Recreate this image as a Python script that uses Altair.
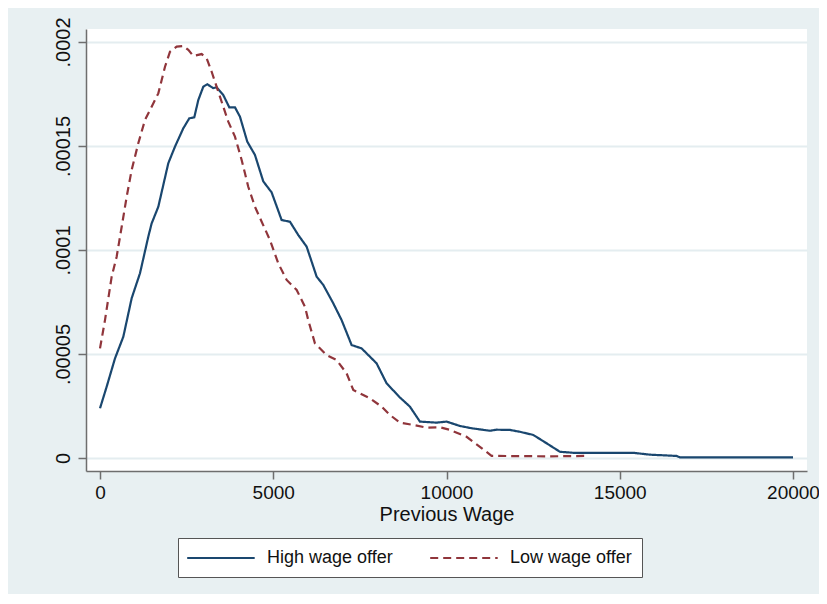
import altair as alt
import pandas as pd

high_x = [0, 193, 433, 673, 914, 1154, 1394, 1491, 1683, 1971, 2164, 2404, 2577, 2721,
          2837, 2981, 3096, 3269, 3366, 3558, 3731, 3895, 4039, 4250, 4472, 4712, 4953,
          5242, 5482, 5722, 5964, 6252, 6444, 6731, 6973, 7262, 7550, 7983, 8271, 8656,
          8944, 9233, 9714, 10003, 10387, 10724, 11252, 11445, 11829, 12118, 12502,
          12887, 13272, 13656, 15387, 15868, 16638, 16734, 20000]
high_y = [2.39, 3.43, 4.79, 5.83, 7.68, 8.88, 10.64, 11.28, 12.08, 14.17, 14.97, 15.85,
          16.33, 16.38, 17.21, 17.85, 17.97, 17.78, 17.82, 17.45, 16.86, 16.86, 16.41,
          15.21, 14.57, 13.30, 12.77, 11.44, 11.36, 10.72, 10.16, 8.72, 8.32, 7.44, 6.63,
          5.43, 5.27, 4.55, 3.59, 2.91, 2.47, 1.75, 1.70, 1.75, 1.54, 1.43, 1.31, 1.36,
          1.35, 1.26, 1.11, 0.71, 0.30, 0.25, 0.25, 0.16, 0.10, 0.03, 0.03]

low_x = [0, 144, 337, 481, 626, 770, 914, 1105, 1298, 1491, 1683, 1876, 2020, 2213, 2404,
         2548, 2692, 2934, 3078, 3223, 3366, 3558, 3702, 3895, 4088, 4279, 4472, 4666,
         4905, 5145, 5387, 5676, 5915, 6010, 6203, 6541, 6829, 7117, 7310, 7790, 8127,
         8367, 8656, 9040, 9425, 9810, 10099, 10579, 10964, 11301, 12983, 14000]
low_y = [5.27, 6.63, 8.72, 9.68, 11.12, 12.56, 13.85, 15.13, 16.25, 16.89, 17.53, 18.81,
         19.53, 19.78, 19.81, 19.62, 19.33, 19.42, 19.22, 18.57, 17.85, 16.89, 16.17,
         15.45, 14.33, 13.04, 12.08, 11.36, 10.48, 9.36, 8.56, 8.08, 7.27, 6.63, 5.51,
         4.95, 4.71, 4.07, 3.27, 2.87, 2.47, 2.07, 1.70, 1.59, 1.46, 1.48, 1.35, 1.02,
         0.54, 0.10, 0.08, 0.10]

series = ["High wage offer", "Low wage offer"]
y_ticks = [0, 0.00005, 0.0001, 0.00015, 0.0002]
x_ticks = [0, 5000, 10000, 15000, 20000]

df = pd.concat([
    pd.DataFrame({"wage": high_x, "density": [v * 1e-5 for v in high_y], "series": series[0], "ord": range(len(high_x))}),
    pd.DataFrame({"wage": low_x, "density": [v * 1e-5 for v in low_y], "series": series[1], "ord": range(len(low_x))}),
])

axis_gray = "#6e6e6e"
font = "Liberation Sans"

legend = alt.Legend(title=None, orient="none", legendX=92, legendY=509,
                    direction="horizontal", fillColor="white", strokeColor="#555555",
                    padding=10, symbolType="M-1.2,0H6.3", symbolSize=324,
                    symbolStrokeWidth=2, labelFontSize=18, labelOffset=59,
                    columnPadding=33, labelLimit=300, labelFont=font,
                    labelColor="#111111")

chart = alt.Chart(df).mark_line(strokeWidth=2.2).encode(
    x=alt.X("wage:Q", title="Previous Wage",
            scale=alt.Scale(domain=[-404, 20404], nice=False, zero=False),
            axis=alt.Axis(values=x_ticks, grid=False, format="d", labelFontSize=19,
                          titleFontSize=20, titleFontWeight="normal", labelPadding=4,
                          titlePadding=2, tickSize=8)),
    y=alt.Y("density:Q", title=None,
            scale=alt.Scale(domain=[-0.00000625, 0.00020625], nice=False, zero=False),
            axis=alt.Axis(values=y_ticks, grid=True, labelAngle=270, labelFontSize=20,
                          labelPadding=5, tickSize=8,
                          labelExpr="datum.value == 0 ? '0' : replace(format(datum.value, '~g'), '0.', '.')")),
    color=alt.Color("series:N", scale=alt.Scale(domain=series, range=["#1a476f", "#90353b"]),
                    legend=legend),
    strokeDash=alt.StrokeDash("series:N", scale=alt.Scale(domain=series, range=[[1, 0], [8, 5]]),
                              legend=legend),
    order="ord:Q",
).properties(
    width=721, height=442,
    autosize=alt.AutoSizeParams(type="none"),
    padding={"left": 78, "top": 21, "right": 12, "bottom": 123},
    background="#E8F0F2",
).configure_view(
    fill="white", stroke=None
).configure_axis(
    domainColor=axis_gray, domainWidth=1.5, tickColor=axis_gray, tickWidth=1.5,
    labelColor="#111111", titleColor="#111111", labelFont=font, titleFont=font,
    gridColor="#E4EDF0", gridWidth=2,
)

chart.save("out.html", embed_options={"renderer": "svg", "actions": False})
